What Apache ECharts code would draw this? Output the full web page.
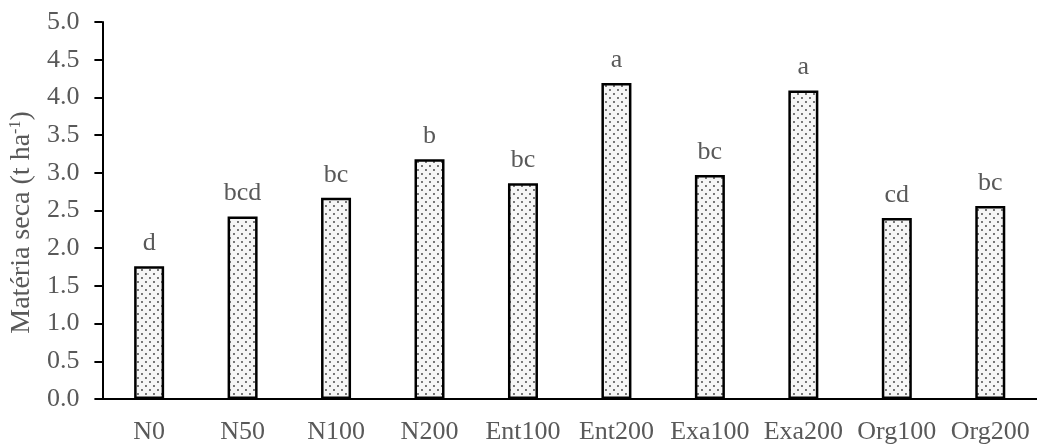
<!DOCTYPE html>
<html>
<head>
<meta charset="utf-8">
<script src="https://cdn.jsdelivr.net/npm/echarts@6/dist/echarts.min.js"></script>
<style>
  html, body { margin: 0; padding: 0; background: #fff; }
  #chart { width: 1037px; height: 445px; }
</style>
</head>
<body>
<div id="chart"></div>
<script>
const categories = ['N0', 'N50', 'N100', 'N200', 'Ent100', 'Ent200', 'Exa100', 'Exa200', 'Org100', 'Org200']
const values = [1.76, 2.42, 2.67, 3.18, 2.86, 4.19, 2.97, 4.09, 2.40, 2.56]
const letters = ['d', 'bcd', 'bc', 'b', 'bc', 'a', 'bc', 'a', 'cd', 'bc']

const FONT = '"Liberation Serif", "Times New Roman", serif'
const GREY = '#595959'

// dotted fill for the bars
const makeDots = () => {
  const c = document.createElement('canvas')
  c.width = 8
  c.height = 8
  const ctx = c.getContext('2d')
  ctx.fillStyle = '#f6f6f6'
  ctx.fillRect(0, 0, 8, 8)
  ctx.fillStyle = '#3a3a3a'
  ctx.beginPath()
  ctx.arc(2, 2, 0.9, 0, Math.PI * 2)
  ctx.arc(6, 6, 0.9, 0, Math.PI * 2)
  ctx.fill()
  return c
}

const chart = echarts.init(document.getElementById('chart'))

chart.setOption({
  animation: false,
  grid: { left: 101, top: 22, bottom: 46, width: 940 },
  xAxis: {
    type: 'category',
    data: categories,
    axisLine: { lineStyle: { color: '#000', width: 2 } },
    axisTick: { length: 7, lineStyle: { color: '#000', width: 2 } },
    axisLabel: { interval: 0, color: GREY, fontFamily: FONT, fontSize: 26, margin: 20 }
  },
  yAxis: {
    type: 'value',
    min: 0,
    max: 5,
    interval: 0.5,
    name: 'Matéria seca (t ha{sup|-1})',
    nameLocation: 'middle',
    nameGap: 52,
    nameTextStyle: {
      color: GREY, fontFamily: FONT, fontSize: 28,
      padding: [0, 24, 0, 0],
      rich: { sup: { color: GREY, fontFamily: FONT, fontSize: 16, verticalAlign: 'top', padding: [0, 0, 12, 0] } }
    },
    splitLine: { show: false },
    axisLine: { show: true, lineStyle: { color: '#000', width: 2 } },
    axisTick: { show: true, length: 8, lineStyle: { color: '#000', width: 2 } },
    axisLabel: {
      color: GREY, fontFamily: FONT, fontSize: 26, margin: 23,
      formatter: v => v.toFixed(1)
    }
  },
  series: [{
    type: 'bar',
    data: values,
    barWidth: 30,
    itemStyle: {
      color: { image: makeDots(), repeat: 'repeat' },
      borderColor: '#000',
      borderWidth: 2.5
    },
    label: {
      show: true,
      position: 'top',
      distance: 10,
      color: GREY,
      fontFamily: FONT,
      fontSize: 26,
      formatter: p => letters[p.dataIndex]
    }
  }]
})
</script>
</body>
</html>
